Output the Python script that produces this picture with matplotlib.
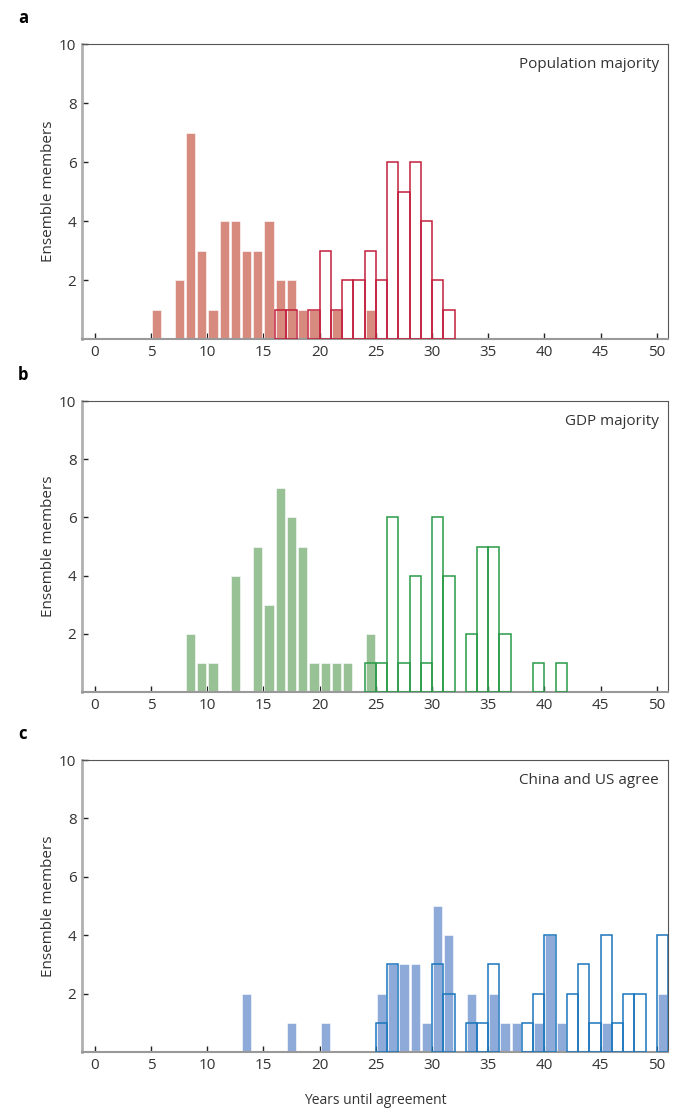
import matplotlib.pyplot as plt
import numpy as np

plt.rcParams['font.family'] = ['Open Sans', 'DejaVu Sans']

# bin start year -> number of ensemble members
pop_fill_years = [5, 7, 8, 9, 10, 11, 12, 13, 14, 15, 16, 17, 18, 19, 21, 24]
pop_fill_counts = [1, 2, 7, 3, 1, 4, 4, 3, 3, 4, 2, 2, 1, 1, 1, 1]
pop_line_years = [16, 17, 19, 20, 21, 22, 23, 24, 25, 26, 27, 28, 29, 30, 31]
pop_line_counts = [1, 1, 1, 3, 1, 2, 2, 3, 2, 6, 5, 6, 4, 2, 1]

gdp_fill_years = [8, 9, 10, 12, 14, 15, 16, 17, 18, 19, 20, 21, 22, 24]
gdp_fill_counts = [2, 1, 1, 4, 5, 3, 7, 6, 5, 1, 1, 1, 1, 2]
gdp_line_years = [24, 25, 26, 27, 28, 29, 30, 31, 33, 34, 35, 36, 39, 41]
gdp_line_counts = [1, 1, 6, 1, 4, 1, 6, 4, 2, 5, 5, 2, 1, 1]

cus_fill_years = [13, 17, 20, 25, 26, 27, 28, 29, 30, 31, 33, 35, 36, 37,
                  39, 40, 41, 45, 50]
cus_fill_counts = [2, 1, 1, 2, 3, 3, 3, 1, 5, 4, 2, 2, 1, 1,
                   1, 4, 1, 1, 2]
cus_line_years = [25, 26, 30, 31, 33, 34, 35, 38, 39, 40, 42, 43, 44, 45,
                  46, 47, 48, 50]
cus_line_counts = [1, 3, 3, 2, 1, 1, 3, 1, 2, 4, 2, 3, 1, 4,
                   1, 2, 2, 4]

panels = [
    ('a', 'Population majority', pop_fill_years, pop_fill_counts,
     pop_line_years, pop_line_counts, '#d68b7e', '#c21f3c'),
    ('b', 'GDP majority', gdp_fill_years, gdp_fill_counts,
     gdp_line_years, gdp_line_counts, '#99c196', '#2a9a47'),
    ('c', 'China and US agree', cus_fill_years, cus_fill_counts,
     cus_line_years, cus_line_counts, '#8eaad8', '#1b76bd'),
]

W, H = 680, 1109
fig = plt.figure(figsize=(W / 100, H / 100), dpi=100)

boxes = [(44, 339), (401, 692), (760, 1052)]
left, right = 82, 668

for (letter, title, fy, fc, ly, lc, fcol, lcol), (top, bot) in zip(panels, boxes):
    ax = fig.add_axes([left / W, 1 - bot / H, (right - left) / W, (bot - top) / H])
    ax.bar(np.array(fy) + 0.5, fc, width=0.82, color=fcol,
           edgecolor='white', linewidth=0.4, zorder=2)
    ax.bar(np.array(ly) + 0.5, lc, width=1.0, facecolor='none',
           edgecolor=lcol, linewidth=1.1, zorder=3)
    ax.set_xlim(-1.15, 51.0)
    ax.set_ylim(0, 10)
    ax.set_xticks(range(0, 51, 5))
    ax.set_yticks([2, 4, 6, 8, 10])
    ax.tick_params(direction='in', length=4, width=1, color='#222',
                   labelsize=11, labelcolor='#333', pad=4)
    ax.spines['left'].set_color('#b0b0b0')
    ax.spines['left'].set_linewidth(2)
    ax.spines['bottom'].set_color('#999999')
    ax.spines['bottom'].set_linewidth(1.5)
    ax.spines['top'].set_color('#555555')
    ax.spines['top'].set_linewidth(0.8)
    ax.spines['right'].set_color('#555555')
    ax.spines['right'].set_linewidth(0.8)
    ax.set_ylabel('Ensemble members', fontsize=11, color='#333', labelpad=2)
    ax.text(0.985, 0.93, title, transform=ax.transAxes, ha='right',
            va='center', fontsize=11, color='#333')
    fig.text(18 / W, 1 - (top - 26) / H, letter, fontsize=12,
             fontweight='bold', ha='left', va='center')
    if letter == 'c':
        ax.set_xlabel('Years until agreement', fontsize=10, color='#333',
                      labelpad=15)

fig.savefig('out.png', dpi=100)
